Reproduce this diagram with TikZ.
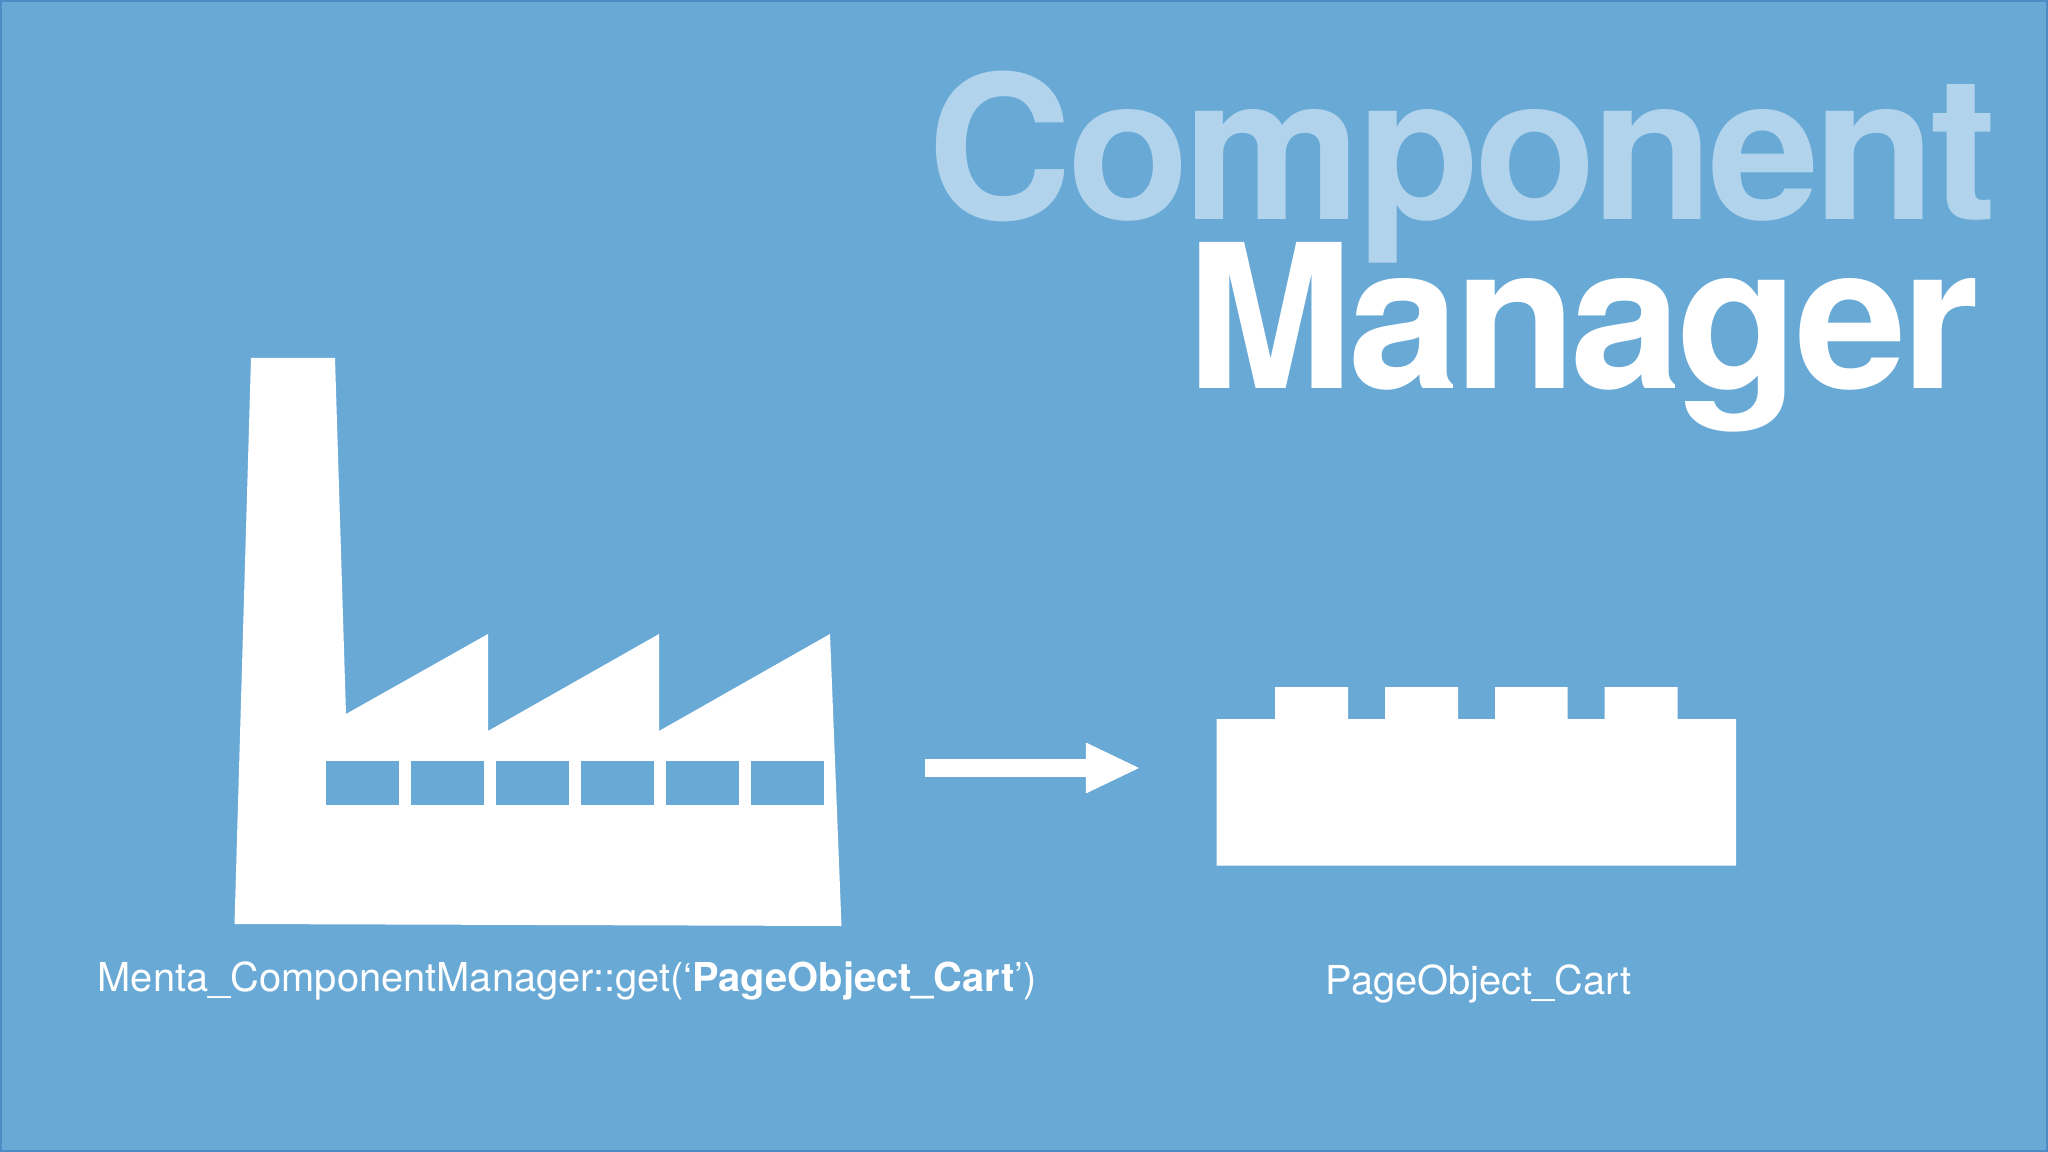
\documentclass[tikz,border=0pt]{standalone}
\usepackage{fontspec}
\usepackage{tikz}
\usetikzlibrary{arrows.meta}
\setmainfont{TeX Gyre Heros}
\newfontfamily\titlefont[LetterSpace=-2.8]{TeX Gyre Heros}
\definecolor{skyblue}{HTML}{68A9D6}
\definecolor{edgeblue}{HTML}{4C8DC4}
\definecolor{paleblue}{HTML}{B1D3EC}
\tikzset{
    titletext/.style={inner sep=0pt, anchor=base west, font=\titlefont\bfseries\fontsize{57}{60}\selectfont},
    captiontext/.style={inner sep=0pt, anchor=base west, white, font=\fontsize{11.33}{13}\selectfont},
    whiteshape/.style={fill=white},
    windowpane/.style={fill=skyblue}
}

\begin{document}
\begin{tikzpicture}[x=0.01cm, y=-0.01cm]
    \useasboundingbox (0,0) rectangle (2048,1152);
    \fill [skyblue] (0,0) rectangle (2048,1152);
    \draw [edgeblue, line width=0.5pt] (1,1) rectangle (2047,1151);

    \node [titletext, paleblue] (componentword) at (927,220) {Component};
    \node [titletext, white] (managerword) at (1186,389) {Manager};

    % factory
    \fill [whiteshape] (251,358) -- (335,358) -- (346,714) -- (488,634) -- (488,731)
        -- (659,634) -- (659,731) -- (830,634) -- (841.5,926) -- (234.5,924) -- cycle;
    \fill [windowpane] (326,761) rectangle (399,805);
    \fill [windowpane] (411,761) rectangle (484,805);
    \fill [windowpane] (496,761) rectangle (569,805);
    \fill [windowpane] (581,761) rectangle (654,805);
    \fill [windowpane] (666,761) rectangle (739,805);
    \fill [windowpane] (751,761) rectangle (824,805);

    % arrow
    \coordinate (arrowtail) at (925,768);
    \coordinate (arrowtip) at (1139,768);
    \draw [white, line width=5.04pt, -{Triangle[length=15.1pt, width=14.5pt, line width=0pt]}] (arrowtail) -- (arrowtip);

    % brick
    \fill [whiteshape] (1216.5,719) -- (1275,719) -- (1275,687) -- (1348,687) -- (1348,719)
        -- (1385,719) -- (1385,687) -- (1458,687) -- (1458,719)
        -- (1495,719) -- (1495,687) -- (1567.5,687) -- (1567.5,719)
        -- (1604.5,719) -- (1604.5,687) -- (1677.5,687) -- (1677.5,719)
        -- (1736,719) -- (1736,865.5) -- (1216.5,865.5) -- cycle;

    \node [captiontext] (callcaption) at (97,991) {Menta\_ComponentManager::get(‘\textbf{PageObject\_Cart}’)};
    \node [captiontext] (brickcaption) at (1325,994) {PageObject\_Cart};
\end{tikzpicture}
\end{document}
